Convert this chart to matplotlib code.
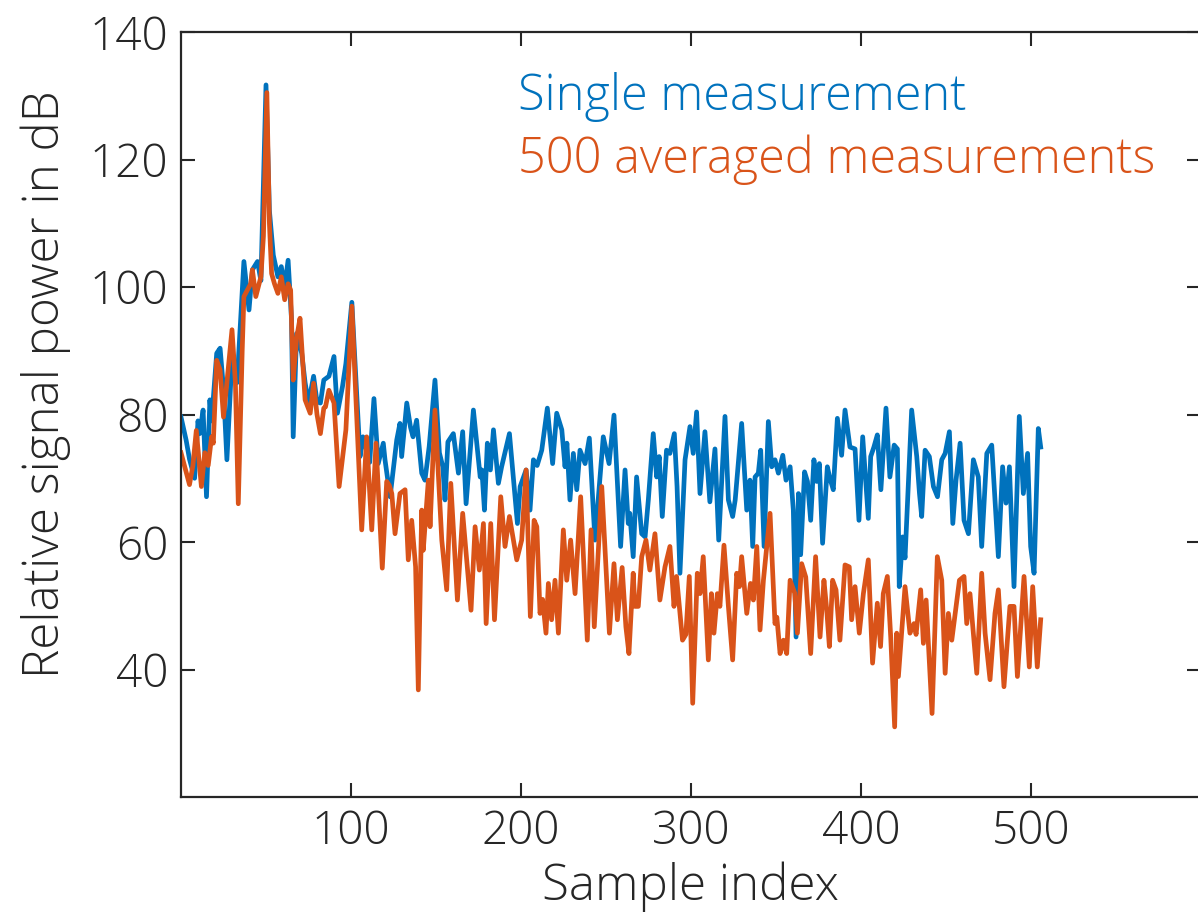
import matplotlib
matplotlib.use("Agg")
import matplotlib.pyplot as plt

single_x = [0, 3, 5, 8, 10, 11, 13, 15, 17, 18, 21, 23, 25, 27, 30, 33, 37, 40, 42, 45, 47, 50, 52, 54.3, 57, 59, 61, 63, 65, 66, 68, 71, 73, 75, 78, 80, 82, 84, 87, 90, 92, 95, 97, 100.5,
            103, 105.3, 107, 109, 111, 113.5, 116, 119, 120, 123, 126.9, 128.8, 129.8, 132.8, 135, 136.5, 138.6, 141.6, 143.5, 146, 149.4, 152, 154, 155.3, 157, 160.2, 163.2, 165.7, 167.7, 172, 176, 177, 178.5, 180.2, 182, 183.8, 186.7, 188.6, 193.2, 197.9, 199.5,
            203, 205.3, 207.3, 209.5, 212.2, 215.5, 218.6, 221, 224, 225.9, 227, 228.8, 230.8, 232.8, 234.7, 237.7, 240.2, 243.5, 248.4, 251.8, 254.7, 258.6, 261.2, 263.1, 264, 266, 268, 271, 273, 274.9, 277.8, 279.8, 281.3, 283.1, 285.6, 287.6, 290.2, 291.8, 293.5, 296.5, 299.4,
            301.3, 303.3, 305.3, 308.2, 311.1, 314.1, 316.3, 320, 322, 324.5, 326, 329.8, 332.8, 334.7, 336.3, 337.7, 339.6, 341, 343, 345.5, 347.5, 349.4, 351.4, 354, 355.9, 358.3, 360.2, 361.8, 363.2, 364.5, 366.8, 368.5, 370.4, 372.3, 373.9, 375.5, 377.4, 380.2, 381.7, 383.7, 386.1, 388.6, 390.6, 393.5, 396.5, 398.8,
            401, 404.3, 405.7, 407.6, 409.6, 411.7, 414.7, 417, 419.5, 421.4, 422.5, 424.5, 425.9, 429.8, 432.8, 434.4, 435.7, 437.7, 440.2, 442.6, 445, 447.5, 449.5, 452, 454, 455.9, 458.3, 460.6, 463.2, 466.1, 469, 471, 474, 476.9, 480.8, 483.3, 485.3, 487.3, 490, 493.1, 495.5, 498, 499.8,
            501.8, 504.3, 505.7]
single_y = [79.6, 76, 73, 70, 79, 77, 80.7, 67.1, 82.3, 79, 89.6, 90.4, 84, 72.9, 89, 85, 104, 96.4, 102.7, 104, 101, 131.7, 112, 105, 101.6, 103.2, 100, 104.2, 95, 76.5, 92.7, 89.6, 85, 81.8, 86, 82, 81.8, 85.4, 86, 89.1, 80.2, 84.4, 88, 97.6,
            85, 73.4, 76.5, 74.5, 72.5, 82.5, 72.3, 75.5, 72.9, 67.1, 76, 78.6, 73.4, 81.8, 78, 76.5, 79.1, 70.8, 69.7, 75, 85.4, 74, 71.8, 66.6, 75.7, 77, 70.8, 77.3, 66, 80.7, 70.2, 71.3, 65, 75.5, 71.3, 77.6, 69.2, 71.8, 77, 62.9, 68.7,
            71.3, 65, 72.9, 72, 74.4, 81, 72.3, 80.2, 77.6, 71.8, 75.5, 66.6, 73.9, 68.2, 74.4, 72.3, 76.3, 60.3, 76.5, 72.3, 79.9, 59.3, 71.3, 62.9, 64.5, 57.7, 70.2, 61.3, 60.8, 66.6, 77, 70.2, 73.4, 64, 74.4, 73.9, 77, 68.7, 55.1, 72.9, 78.1,
            73.9, 80.4, 67.6, 77.3, 66.3, 74.6, 60.3, 79.7, 66.6, 64, 66.6, 78.6, 65, 69.7, 59.3, 70.2, 70.8, 74.4, 59.3, 78.9, 71.8, 72.9, 70.8, 73.6, 69.7, 71.8, 65, 45.1, 67.6, 58, 71, 69.5, 63.4, 72.9, 69.5, 72.3, 59.8, 71.8, 70, 68.2, 79.4, 73.6, 80.7, 74.9, 74.6, 63.4,
            76.5, 63.7, 73.4, 74.9, 76.8, 68.2, 81, 70.2, 75.2, 74.6, 53, 60.8, 57.5, 80.7, 73.4, 67.6, 64, 74.4, 73.4, 68.7, 67.1, 72.9, 73.9, 77.3, 62.9, 69.7, 75.5, 63.4, 61.3, 72.9, 70.2, 59.3, 73.9, 75.2, 57.7, 71.8, 66.1, 71.8, 53, 79.7, 67.6, 73.9, 59.3,
            55.1, 77.8, 74.9]

# 500 averaged measurements (orange)
avg_x = [0, 2, 5, 7, 9, 12, 14, 16, 18, 19, 21, 23, 25, 27, 30, 32, 33.7, 36, 37, 39, 41, 42, 44, 47, 48.5, 50.5, 52, 53.3, 55, 57, 59, 61, 63, 64.5, 66, 68, 70, 73, 76, 78, 80, 82, 84, 85, 87, 90, 93, 97, 100.5,
         103, 106.3, 109.2, 112.2, 114.7, 118.4, 121, 122.5, 124, 125.9, 128.8, 131.8, 133.7, 135.7, 138, 139.6, 141.6, 142.5, 145.5, 146.5, 149.4, 153.4, 156.3, 158.7, 162.6, 165.7, 170.6, 173, 175.5, 177.9, 179.5, 182.2, 184.4, 188.1, 190.6, 193.2, 197.5, 200.4,
         203, 205.5, 207.7, 209.3, 211.2, 212.7, 214.7, 216.1, 218, 220, 222, 224.9, 226.9, 229.2, 231.8, 235.1, 239, 241.2, 243.1, 247.5, 252, 254.7, 256.7, 259.5, 261.7, 263.5, 266, 267, 269, 271, 273.5, 275.8, 278.8, 281.7, 284.7, 287.6, 290, 291.5, 295, 297, 299,
         301, 303.7, 305.3, 307.2, 310.2, 312, 313.5, 315.5, 317, 319.4, 322, 324.5, 326.9, 328.5, 329.8, 332.8, 335, 336.7, 338.7, 340.6, 342.6, 346.5, 349.4, 350.5, 352.4, 354.4, 356.3, 358.3, 361, 362.6, 365.1, 367.5, 370.4, 373.3, 375.9, 378.2, 379.8, 381.4, 383.3, 385.3, 387.6, 390.6, 393.1, 394.5, 396.5, 399,
         401.4, 404.3, 406.8, 409.6, 411.5, 413.1, 415.5, 417.5, 419.8, 421, 422, 425.9, 428.8, 431.2, 432.4, 435.1, 436.7, 438.3, 441.8, 444.9, 447.5, 449.5, 451.4, 453.4, 457.9, 460.6, 462.2, 464.1, 468.1, 471, 473, 475.9, 478.8, 480.8, 484.1, 487.6, 490, 492, 495.9, 499,
         501, 503.7, 505.7]
avg_y = [74, 72, 69, 72, 77.5, 68.7, 74, 72, 76.5, 75.5, 88.5, 87, 79.6, 85, 93.3, 85, 66, 90, 98.5, 99.5, 100.5, 102.7, 98.5, 101.6, 108, 130.5, 110, 102.1, 100.5, 99, 101.6, 98, 100.5, 99.5, 85.4, 92, 95.1, 82.3, 80.2, 84.9, 80, 77, 81, 81.2, 83.8, 81.8, 68.7, 77.6, 97,
         82, 61.9, 76.5, 61.9, 75.5, 55.9, 69.5, 68.9, 67.6, 61.3, 67.6, 68.2, 57.2, 63.4, 56.1, 36.8, 65, 58.7, 69.7, 62.4, 80.7, 60.3, 52.5, 69.2, 50.9, 64.5, 49.3, 62.4, 55.6, 62.9, 47.2, 62.9, 47.8, 67.1, 59.3, 64, 57.2, 60.3,
         71.3, 48.3, 63.4, 62.4, 48.8, 51, 45.7, 53.5, 47.8, 54, 45.7, 61.9, 54, 60.3, 51.9, 67.1, 44.6, 61.9, 46.7, 68.7, 45.7, 56.6, 47.8, 56, 46.7, 42.5, 55.1, 49.9, 49.9, 57.7, 60.3, 55.6, 61.3, 50.9, 56.1, 59.3, 49.9, 54.6, 44.6, 45.5, 54.6,
         34.7, 55.1, 51.9, 57.7, 41.5, 51.9, 45.7, 51.9, 49.9, 59.5, 49.9, 41.5, 55.1, 53, 57.7, 48.8, 53.5, 50.9, 59.3, 46.2, 54, 64.5, 47.2, 48.2, 42.5, 44.6, 42.5, 54, 52, 45.7, 56.6, 54.5, 42.5, 57.7, 45.1, 54, 49.5, 43.6, 54, 52.5, 44.6, 56.4, 56.1, 47.8, 53, 45.7,
         51.9, 57.2, 41, 50.4, 43.6, 51.9, 54.6, 45, 31, 45.7, 38.9, 53, 45.7, 47.2, 45.5, 52.5, 44.1, 50.9, 33.1, 57.7, 54, 39.4, 48.8, 44.6, 54, 54.6, 47.2, 51.9, 39.4, 55.1, 45.7, 38.4, 48.8, 52.5, 37.3, 49.9, 49.9, 38.9, 54.6, 40.4,
         53, 40.4, 47.8]

x_ticks = [100, 200, 300, 400, 500]
y_ticks = [40, 60, 80, 100, 120, 140]
legend_labels = ["Single measurement", "500 averaged measurements"]

blue = "#0072BD"
orange = "#D95319"

plt.rcParams['font.family'] = ['Open Sans', 'DejaVu Sans']
plt.rcParams['font.weight'] = 'light'
plt.rcParams['axes.labelweight'] = 'light'

fig = plt.figure(figsize=(11.98, 9.17), dpi=100)
ax = fig.add_axes([181 / 1198, 120 / 917, 1020 / 1198, 765 / 917])

ax.plot(single_x, single_y, color=blue, lw=3.4, solid_joinstyle='round')
ax.plot(avg_x, avg_y, color=orange, lw=3.4, solid_joinstyle='round')

ax.set_xlim(0, 600)
ax.set_ylim(20, 140)
ax.set_xticks(x_ticks)
ax.set_yticks(y_ticks)
ax.tick_params(direction='in', length=10, width=1.5, labelsize=33, top=True, right=True, pad=9, colors='#262626')
for s in ax.spines.values():
    s.set_linewidth(1.6)
    s.set_color('#262626')

ax.set_xlabel("Sample index", fontsize=35.5, color='#262626', fontweight='light')
ax.set_ylabel("Relative signal power in dB", fontsize=35.5, color='#262626', fontweight='light')
ax.xaxis.set_label_coords(0.5, -0.084)
ax.yaxis.set_label_coords(-0.108, 0.54)

ax.text(0.33, 0.915, legend_labels[0], transform=ax.transAxes, color=blue, fontsize=35, va='center', ha='left')
ax.text(0.33, 0.833, legend_labels[1], transform=ax.transAxes, color=orange, fontsize=35, va='center', ha='left')

fig.savefig("out.png", dpi=100)
